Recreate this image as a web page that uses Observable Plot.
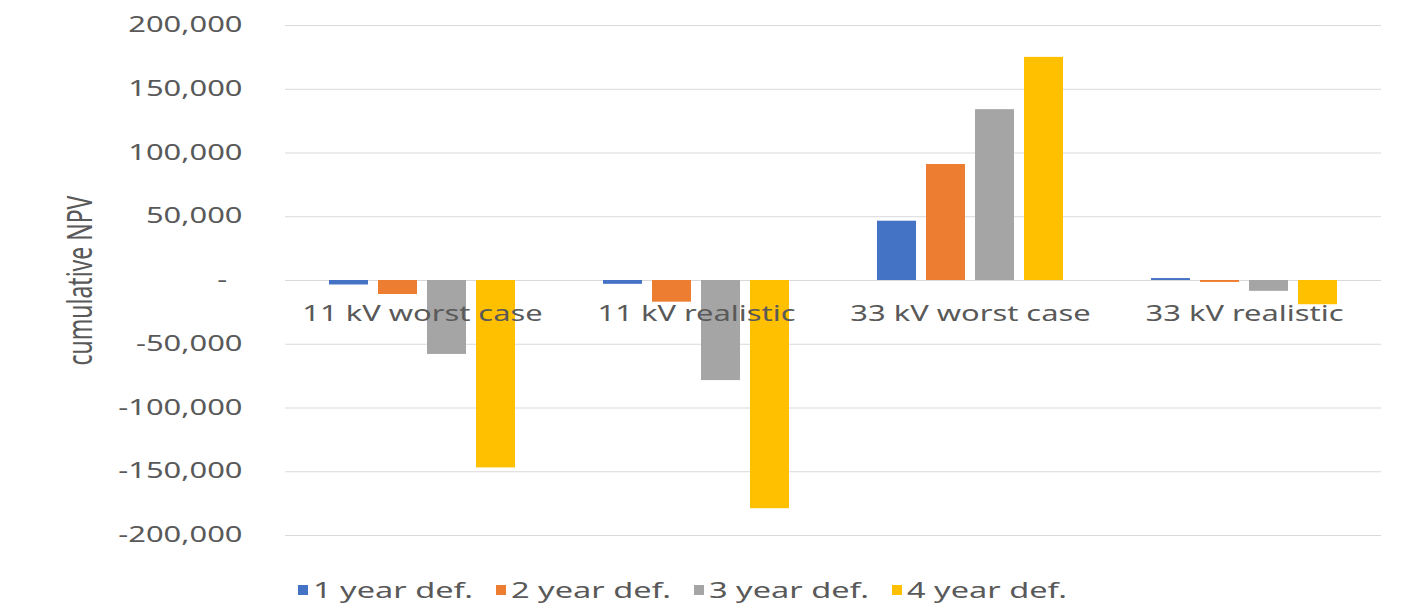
<!DOCTYPE html>
<html><head><meta charset="utf-8">
<script src="https://cdn.jsdelivr.net/npm/d3@7"></script>
<script src="https://cdn.jsdelivr.net/npm/@observablehq/plot@0.6"></script>
<style>
body{margin:0;background:#fff;}
#legend{display:flex;align-items:center;height:45px;box-sizing:border-box;padding-top:14px;padding-left:298px;font-family:"Noto Sans";font-size:21px;color:#595959;}
#legend .item{display:flex;align-items:center;width:198px;flex:none;}
#legend .sw{width:10px;height:10px;margin-right:5px;flex:none;}
#legend .tx{display:inline-block;transform:scaleX(1.55);transform-origin:0 50%;white-space:nowrap;}
</style></head><body><div id="chart"></div><div id="legend"></div><script>
const categories = ["11 kV worst case", "11 kV realistic", "33 kV worst case", "33 kV realistic"];
const series = ["1 year def.", "2 year def.", "3 year def.", "4 year def."];
const colors = ["#4472C4", "#ED7D31", "#A5A5A5", "#FFC000"];
const oneYear = [-3500, -3000, 46500, 1500];
const twoYear = [-11000, -17000, 91000, -1500];
const threeYear = [-58000, -78500, 134000, -8500];
const fourYear = [-147000, -179000, 175000, -19000];
const yTicks = [-200000, -150000, -100000, -50000, 0, 50000, 100000, 150000, 200000];

const stretch = 1.47;
const seriesValues = [oneYear, twoYear, threeYear, fourYear];
const data = categories.flatMap((c, i) => series.map((s, j) => ({cat: c, series: s, value: seriesValues[j][i]})));
const labelData = categories.map(c => ({cat: c, v: 0}));
const fmt = d => d === 0 ? "-\u2002" : d3.format(",")(d).replace("\u2212", "-");

const chart = Plot.plot({
  width: 1403, height: 560,
  marginLeft: 285, marginRight: 22, marginTop: 25, marginBottom: 25,
  style: {fontFamily: "Noto Sans", fontSize: "21px", color: "#595959", background: "#fff"},
  fx: {domain: categories, padding: 0, axis: null},
  x: {domain: series, paddingInner: 0.2, paddingOuter: 0.87, axis: null},
  y: {domain: [-200000, 200000], axis: null},
  color: {domain: series, range: colors},
  marks: [
    Plot.gridY(yTicks, {stroke: "#D9D9D9", strokeOpacity: 1}),
    Plot.axisY(yTicks, {tickSize: 0, tickPadding: 43, tickFormat: fmt, label: "cumulative NPV", labelAnchor: "center", labelArrow: "none", labelOffset: 218}),
    Plot.barY(data, {fx: "cat", x: "series", y: "value", fill: "series"}),
    Plot.text(labelData, {fx: "cat", y: "v", text: "cat", dy: 34, fill: "#595959"})
  ]
});
document.getElementById("chart").appendChild(chart);
const svg = d3.select(chart);
const yLabel = svg.selectAll('[aria-label="y-axis label"] text');
yLabel.attr("font-size", 23).attr("transform", function() { return (this.getAttribute("transform") || "") + " scale(1," + stretch + ")"; });
svg.selectAll("text").each(function() {
  if (this.closest('[aria-label="y-axis label"]')) return;
  const w = this.getComputedTextLength();
  this.setAttribute("textLength", w * stretch);
  this.setAttribute("lengthAdjust", "spacingAndGlyphs");
});

const legend = d3.select("#legend");
series.forEach((s, i) => {
  const it = legend.append("div").attr("class", "item");
  it.append("div").attr("class", "sw").style("background", colors[i]);
  it.append("span").attr("class", "tx").text(s);
});
</script></body></html>
